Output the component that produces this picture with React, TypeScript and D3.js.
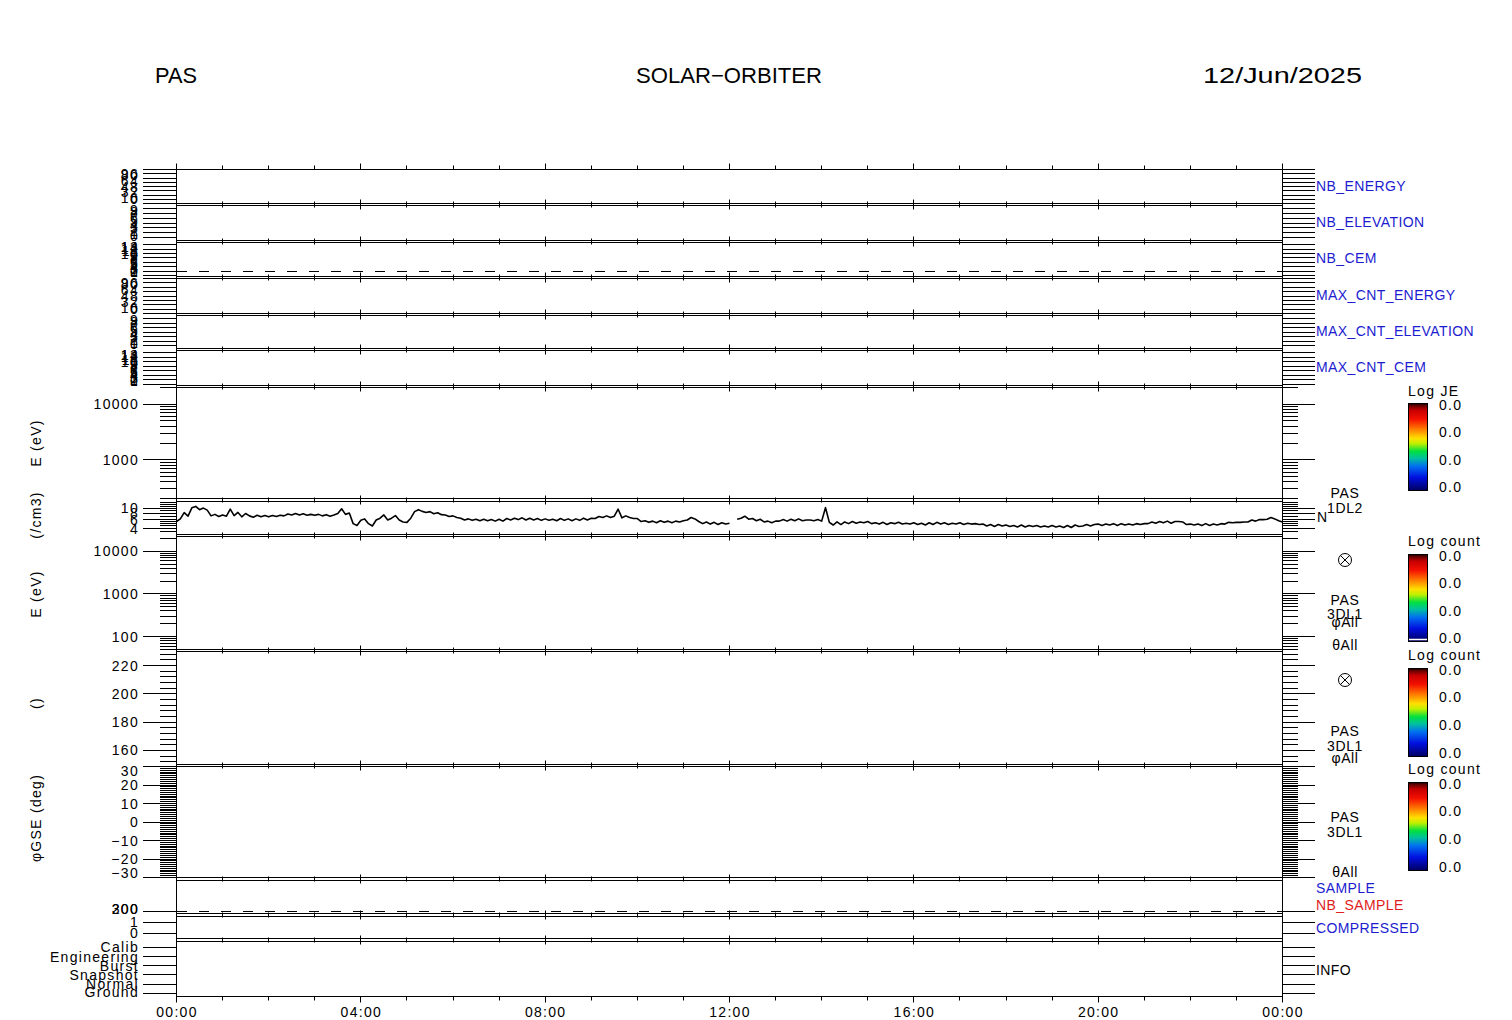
import React from 'react';
import * as d3 from 'd3';

const FONT = "'Liberation Sans', Arial, sans-serif";
const BLUE = '#1c1cd0';
const RED = '#e01c1c';

// ---------- titles ----------
const titleLeft = 'PAS';
const titleCenter = 'SOLAR\u2212ORBITER';
const titleRight = '12/Jun/2025';

// ---------- time axis ----------
const dayStart = Date.UTC(2025, 5, 12, 0, 0);
const dayEnd = Date.UTC(2025, 5, 13, 0, 0);
const timeTickLabels = ['00:00', '04:00', '08:00', '12:00', '16:00', '20:00', '00:00'];

// ---------- housekeeping panels ----------
const energyIndexTicks = [0, 12, 24, 36, 48, 60, 72, 84, 96];
const energyIndexLabels = [0, 16, 32, 48, 64, 80, 96];
const elevationTicks = [0, 1.5, 3, 4.5, 6, 7.5, 9];
const elevationLabels = [0, 1, 2, 3, 4, 5, 6, 7, 8, 9];
const cemTicks = [0, 2, 4, 6, 8, 10, 12, 14];
const cemLabels = [0, 1, 2, 3, 4, 5, 6, 7, 8, 9, 10, 11, 12, 13, 14];
const nbCemThreshold = 2;

// ---------- 1DL2 spectrogram (E, eV) ----------
const energy1Labels = [1000, 10000];
const energy1Minor = [200, 300, 400, 500, 600, 700, 800, 900, 2000, 3000, 4000, 5000, 6000, 7000, 8000, 9000, 20000];

// ---------- density N (/cm3), 5-minute cadence from 00:00 ----------
const densityLabels = [4, 6, 8, 10];
const densityMinor = [3.5, 4.5, 5, 5.5, 7, 9, 11, 12, 13];
const densityStepMin = 5;
const densityN: (number | null)[] = [
  5.5, 6.2, 8.2, 7.0, 10.2, 10.9, 9.4, 10.1, 9.2, 7.1, 7.6, 6.9,
  7.4, 7.0, 9.6, 7.2, 8.3, 6.8, 7.9, 7.1, 6.7, 7.3, 6.8, 7.2,
  6.8, 7.2, 6.9, 7.3, 7.1, 7.7, 7.4, 7.9, 7.4, 7.8, 7.3, 7.6,
  7.3, 7.6, 7.1, 7.5, 7.0, 7.4, 7.9, 9.8, 7.6, 8.1, 5.0, 4.6,
  5.8, 6.2, 5.0, 4.5, 5.9, 6.4, 7.4, 5.9, 6.4, 7.2, 5.9, 5.4,
  5.3, 6.4, 8.6, 9.4, 8.7, 8.3, 8.6, 7.8, 8.2, 7.5, 7.4, 6.9,
  7.1, 6.6, 6.4, 5.9, 6.2, 5.8, 6.1, 5.7, 6.1, 5.7, 6.0, 5.6,
  6.1, 5.6, 6.3, 5.9, 6.4, 6.0, 6.5, 5.9, 6.4, 5.9, 6.3, 5.8,
  6.2, 5.8, 6.1, 5.7, 6.3, 5.8, 6.2, 5.7, 6.2, 5.8, 6.4, 5.9,
  6.4, 6.3, 6.9, 6.6, 7.1, 6.6, 7.0, 9.6, 6.5, 7.1, 6.6, 6.3,
  6.3, 5.5, 5.7, 5.3, 5.6, 5.2, 5.7, 5.3, 5.6, 5.2, 5.6, 5.4,
  5.7, 5.9, 6.6, 6.2, 5.5, 5.0, 5.4, 4.9, 5.3, 4.8, 5.2, 4.9,
  5.1, null, 6.1, 6.4, 7.0, 6.1, 6.3, 5.7, 6.1, 5.4, 5.6, 5.2,
  5.6, 5.6, 6.0, 5.6, 6.1, 5.7, 6.2, 5.7, 5.9, 5.9, 5.7, 6.0,
  5.6, 10.3, 5.3, 4.7, 5.4, 4.8, 5.4, 5.0, 5.5, 5.1, 5.4, 5.2,
  5.5, 5.0, 5.2, 4.9, 5.3, 4.8, 5.2, 5.0, 5.3, 4.9, 5.1, 4.9,
  5.2, 4.8, 5.1, 4.7, 5.2, 4.8, 5.3, 4.9, 5.2, 4.8, 5.1, 4.9,
  5.2, 4.8, 5.1, 4.9, 5.0, 4.8, 4.9, 4.5, 4.8, 4.4, 4.8, 4.5,
  4.7, 4.4, 4.6, 4.3, 4.7, 4.3, 4.6, 4.4, 4.6, 4.3, 4.5, 4.3,
  4.6, 4.3, 4.5, 4.2, 4.6, 4.2, 4.7, 4.4, 4.5, 4.8, 4.5, 4.8,
  4.9, 4.6, 4.9, 4.7, 5.0, 4.6, 5.0, 4.7, 4.9, 4.7, 5.0, 4.8,
  5.0, 5.0, 5.4, 5.1, 5.5, 5.2, 5.6, 5.1, 5.5, 5.5, 5.4, 4.8,
  4.9, 4.7, 4.9, 4.6, 5.0, 4.6, 4.9, 4.7, 5.0, 4.9, 5.3, 5.2,
  5.3, 5.3, 5.4, 5.4, 5.9, 5.6, 6.0, 6.0, 6.1, 6.6, 6.2, 5.7,
  5.4,
];

// ---------- 3DL1 panels ----------
const energy3Labels = [100, 1000, 10000];
const energy3Minor = [50, 60, 70, 80, 90, 200, 300, 400, 500, 600, 700, 800, 900, 2000, 3000, 4000, 5000, 6000, 7000, 8000, 9000, 20000];
const thetaLabels = [160, 180, 200, 220];
const thetaMinor = [152, 156, 164, 168, 172, 176, 184, 188, 192, 196, 204, 208, 212, 216, 224, 228];
const phiLabels = [-30, -20, -10, 0, 10, 20, 30];
const phiMinor = d3.range(-29, 30).filter((v) => v % 10 !== 0);

// ---------- bottom panels ----------
const sampleLabels = [200];
const nbSampleLabels = [300];
const compressedLabels = [0, 1];
const infoCategories = ['Ground', 'Normal', 'Snapshot', 'Burst', 'Engineering', 'Calib'];

// ---------- colour bars ----------
const colorbarTickLabels = ['0.0', '0.0', '0.0', '0.0'];
const colorbarTitles = ['Log JE', 'Log count', 'Log count', 'Log count'];

// ---------- layout ----------
const X0 = 176;
const X1 = 1282;
const LM = 143, LN = 160, RM = 1315, RN = 1298;

const fmt = (v: number) => (v < 0 ? '\u2212' + Math.abs(v) : String(v));

type Panel = {
  key: string;
  top: number;
  bottom: number;
  y: (v: number) => number;
  major: number[];
  minor: number[];
  labels: { v: number; t: string }[];
};

const lin = (d0: number, d1: number, top: number, bottom: number) =>
  d3.scaleLinear().domain([d0, d1]).range([bottom + 0.5, top + 0.5]);
const lg = (d0: number, d1: number, top: number, bottom: number) =>
  d3.scaleLog().domain([d0, d1]).range([bottom + 0.5, top + 0.5]);

export default function App() {
  const x = d3.scaleUtc().domain([new Date(dayStart), new Date(dayEnd)]).range([X0 + 0.5, X1 + 0.5]);
  const hours = x.ticks(d3.utcHour.every(1)!);

  const sNbE = lin(0, 96, 169, 203);
  const sEl = lin(-1, 10, 205, 240);
  const sCem = lin(-0.5, 15, 242, 276);
  const sMxE = lin(0, 96, 278, 313);
  const sMxEl = lin(-1, 10, 315, 348);
  const sMxCem = lin(-0.5, 15, 350, 385);
  const sE1 = lg(200, 20000, 387, 498);
  const sN = lg(3.06, 13.6, 501, 534);
  const sE3 = lg(50, 22000, 536, 649);
  const sTh = lin(150, 230, 651, 764);
  const sPhi = lin(-30, 30, 766, 877);
  const sSample = lin(190, 355, 880, 913);
  const sNbSample = lin(290, 455, 880, 913);
  const sComp = lin(-0.5, 1.5, 916, 938);
  const sInfo = lin(-0.35, 5.65, 941, 996);

  const num = (arr: number[]) => arr.map((v) => ({ v, t: fmt(v) }));

  const panels: Panel[] = [
    { key: 'p1', top: 169, bottom: 203, y: sNbE, major: energyIndexTicks, minor: [], labels: num(energyIndexLabels) },
    { key: 'p2', top: 205, bottom: 240, y: sEl, major: elevationTicks, minor: [], labels: num(elevationLabels) },
    { key: 'p3', top: 242, bottom: 276, y: sCem, major: cemTicks, minor: [], labels: num(cemLabels) },
    { key: 'p4', top: 278, bottom: 313, y: sMxE, major: energyIndexTicks, minor: [], labels: num(energyIndexLabels) },
    { key: 'p5', top: 315, bottom: 348, y: sMxEl, major: elevationTicks, minor: [], labels: num(elevationLabels) },
    { key: 'p6', top: 350, bottom: 385, y: sMxCem, major: cemTicks, minor: [], labels: num(cemLabels) },
    { key: 'p7', top: 387, bottom: 498, y: sE1, major: energy1Labels, minor: energy1Minor, labels: num(energy1Labels) },
    { key: 'p8', top: 501, bottom: 534, y: sN, major: densityLabels, minor: densityMinor, labels: num(densityLabels) },
    { key: 'p9', top: 536, bottom: 649, y: sE3, major: energy3Labels, minor: energy3Minor, labels: num(energy3Labels) },
    { key: 'p10', top: 651, bottom: 764, y: sTh, major: thetaLabels, minor: thetaMinor, labels: num(thetaLabels) },
    { key: 'p11', top: 766, bottom: 877, y: sPhi, major: phiLabels, minor: phiMinor, labels: num(phiLabels) },
    { key: 'p12', top: 880, bottom: 913, y: sNbSample, major: nbSampleLabels, minor: [], labels: [...sampleLabels.map((v) => ({ v: sNbSample.invert(sSample(v)), t: String(v) })), ...num(nbSampleLabels)] },
    { key: 'p13', top: 916, bottom: 938, y: sComp, major: compressedLabels, minor: [], labels: num(compressedLabels) },
    { key: 'p14', top: 941, bottom: 996, y: sInfo, major: infoCategories.map((_, i) => i), minor: [], labels: infoCategories.map((c, i) => ({ v: i, t: c })) },
  ];

  const txt = { fontFamily: FONT, fontSize: 14, letterSpacing: 1.3 } as const;

  const renderPanel = (p: Panel) => {
    const els: React.ReactNode[] = [];
    const t = p.top + 0.5;
    const b = p.bottom + 0.5;
    els.push(<rect key="f" x={X0 + 0.5} y={t} width={X1 - X0} height={b - t} fill="none" stroke="#000" strokeWidth={1} />);
    hours.forEach((h, i) => {
      const xx = Math.round(x(h) - 0.5) + 0.5;
      const len = h.getUTCHours() % 4 === 0 ? 6 : 4;
      els.push(<line key={'tt' + i} x1={xx} x2={xx} y1={t} y2={t - len} stroke="#000" />);
      els.push(<line key={'tb' + i} x1={xx} x2={xx} y1={b} y2={b + len} stroke="#000" />);
    });
    const dom = (p.y as any).domain() as number[];
    const inDom = (v: number) => v >= Math.min(dom[0], dom[1]) && v <= Math.max(dom[0], dom[1]);
    p.major.filter(inDom).forEach((v, i) => {
      const yy = Math.round(p.y(v) - 0.5) + 0.5;
      els.push(<line key={'ml' + i} x1={LM} x2={X0 + 0.5} y1={yy} y2={yy} stroke="#000" />);
      els.push(<line key={'mr' + i} x1={X1 + 0.5} x2={RM} y1={yy} y2={yy} stroke="#000" />);
    });
    p.minor.filter(inDom).forEach((v, i) => {
      const yy = Math.round(p.y(v) - 0.5) + 0.5;
      els.push(<line key={'nl' + i} x1={LN} x2={X0 + 0.5} y1={yy} y2={yy} stroke="#000" />);
      els.push(<line key={'nr' + i} x1={X1 + 0.5} x2={RN} y1={yy} y2={yy} stroke="#000" />);
    });
    p.labels.forEach((l, i) => {
      const yy = Math.max(p.top + 5, Math.min(p.bottom - 4, p.y(l.v)));
      els.push(
        <text key={'lb' + i} x={139} y={yy} dy="0.36em" textAnchor="end" style={txt} fill="#000">
          {l.t}
        </text>
      );
    });
    return <g key={p.key}>{els}</g>;
  };

  const densityLine = d3
    .line<number | null>()
    .defined((d) => d != null)
    .x((_, i) => x(new Date(dayStart + i * densityStepMin * 60000)))
    .y((d) => sN(d as number))(densityN);

  const rightLabels: { t: string; y: number; color: string }[] = [
    { t: 'NB_ENERGY', y: 186, color: BLUE },
    { t: 'NB_ELEVATION', y: 222, color: BLUE },
    { t: 'NB_CEM', y: 258, color: BLUE },
    { t: 'MAX_CNT_ENERGY', y: 295, color: BLUE },
    { t: 'MAX_CNT_ELEVATION', y: 331, color: BLUE },
    { t: 'MAX_CNT_CEM', y: 367, color: BLUE },
    { t: 'SAMPLE', y: 888, color: BLUE },
    { t: 'NB_SAMPLE', y: 905, color: RED },
    { t: 'COMPRESSED', y: 928, color: BLUE },
    { t: 'INFO', y: 970, color: '#000' },
  ];

  const centerLabels: { t: string; y: number }[] = [
    { t: 'PAS', y: 493 },
    { t: '1DL2', y: 508 },
    { t: 'PAS', y: 600 },
    { t: '3DL1', y: 614 },
    { t: '\u03c6All', y: 622 },
    { t: '\u03b8All', y: 645 },
    { t: 'PAS', y: 731 },
    { t: '3DL1', y: 746 },
    { t: '\u03c6All', y: 758 },
    { t: 'PAS', y: 817 },
    { t: '3DL1', y: 832 },
    { t: '\u03b8All', y: 872 },
  ];
  const crossMarks = [560, 680];

  const leftTitles: { t: string; y: number }[] = [
    { t: 'E (eV)', y: 443 },
    { t: '(/cm3)', y: 515 },
    { t: 'E (eV)', y: 594 },
    { t: '()', y: 703 },
    { t: '\u03c6GSE (deg)', y: 818 },
  ];

  const colorbars = [
    { top: 403, bottom: 490, titleY: 391 },
    { top: 554, bottom: 641, titleY: 541 },
    { top: 668, bottom: 756, titleY: 655 },
    { top: 782, bottom: 870, titleY: 769 },
  ];

  const title = { fontFamily: FONT, fontSize: 22 } as const;

  return (
    <svg width={1512} height={1020} viewBox="0 0 1512 1020" style={{ position: 'absolute', left: 0, top: 0, background: '#fff' }}>
      <defs>
        <linearGradient id="cbGrad" x1="0" y1="0" x2="0" y2="1">
          <stop offset="0" stopColor="#1a0000" />
          <stop offset="0.03" stopColor="#700000" />
          <stop offset="0.08" stopColor="#c80000" />
          <stop offset="0.18" stopColor="#f41000" />
          <stop offset="0.30" stopColor="#ff8000" />
          <stop offset="0.40" stopColor="#ffe000" />
          <stop offset="0.46" stopColor="#c0f000" />
          <stop offset="0.55" stopColor="#00e040" />
          <stop offset="0.63" stopColor="#00c0a0" />
          <stop offset="0.72" stopColor="#0070f0" />
          <stop offset="0.85" stopColor="#0010e0" />
          <stop offset="1" stopColor="#000060" />
        </linearGradient>
      </defs>
      <rect x={0} y={0} width={1512} height={1020} fill="#fff" />

      <text x={155} y={83} style={title} textLength={42} lengthAdjust="spacingAndGlyphs">{titleLeft}</text>
      <text x={636} y={83} style={title} textLength={186} lengthAdjust="spacingAndGlyphs">{titleCenter}</text>
      <text x={1203} y={83} style={title} textLength={159} lengthAdjust="spacingAndGlyphs">{titleRight}</text>

      {panels.map(renderPanel)}

      <line x1={X0 + 1} x2={X1} y1={Math.round(sCem(nbCemThreshold)) + 0.5} y2={Math.round(sCem(nbCemThreshold)) + 0.5} stroke="#000" strokeDasharray="10 12" />
      <line x1={X0 + 1} x2={X1} y1={Math.round(sNbSample(nbSampleLabels[0]) - 0.5) + 0.5} y2={Math.round(sNbSample(nbSampleLabels[0]) - 0.5) + 0.5} stroke="#000" strokeDasharray="10 12" />

      <path d={densityLine || ''} fill="none" stroke="#000" strokeWidth={1.6} strokeLinejoin="round" />

      {hours
        .filter((h) => h.getUTCHours() % 4 === 0)
        .map((h, i) => (
          <text key={'tl' + i} x={x(h) + 0.5} y={1017} textAnchor="middle" style={txt}>
            {timeTickLabels[i]}
          </text>
        ))}

      {leftTitles.map((l, i) => (
        <text key={'lt' + i} transform={`translate(36,${l.y}) rotate(-90)`} textAnchor="middle" dy="0.36em" style={txt}>
          {l.t}
        </text>
      ))}

      {rightLabels.map((l, i) => (
        <text key={'rl' + i} x={1316} y={l.y} dy="0.36em" fill={l.color} style={{ fontFamily: FONT, fontSize: 14, letterSpacing: 0.4 }}>
          {l.t}
        </text>
      ))}
      <text x={1317} y={517} dy="0.36em" style={{ ...txt, letterSpacing: 0 }}>N</text>
      {centerLabels.map((l, i) => (
        <text key={'cl' + i} x={1345} y={l.y} dy="0.36em" textAnchor="middle" style={{ ...txt, letterSpacing: 0.6 }}>
          {l.t}
        </text>
      ))}
      {crossMarks.map((cy, i) => (
        <g key={'cx' + i} stroke="#000" fill="none">
          <circle cx={1345} cy={cy} r={6.5} />
          <line x1={1340.4} y1={cy - 4.6} x2={1349.6} y2={cy + 4.6} />
          <line x1={1340.4} y1={cy + 4.6} x2={1349.6} y2={cy - 4.6} />
        </g>
      ))}

      {colorbars.map((c, i) => {
        const ly = d3.scaleLinear().domain([0, colorbarTickLabels.length - 1]).range([c.top + 1.5, c.bottom - 3]);
        return (
          <g key={'cb' + i}>
            <text x={1408} y={c.titleY} dy="0.36em" style={txt}>{colorbarTitles[i]}</text>
            <rect x={1408.5} y={c.top + 0.5} width={19} height={c.bottom - c.top} fill="url(#cbGrad)" stroke="#000" />
            {i === 1 && <line x1={1409} x2={1427} y1={c.bottom - 1.5} y2={c.bottom - 1.5} stroke="#fff" strokeWidth={1.5} />}
            {colorbarTickLabels.map((t, j) => (
              <text key={j} x={1439} y={ly(j)} dy="0.36em" style={txt}>{t}</text>
            ))}
          </g>
        );
      })}
    </svg>
  );
}
